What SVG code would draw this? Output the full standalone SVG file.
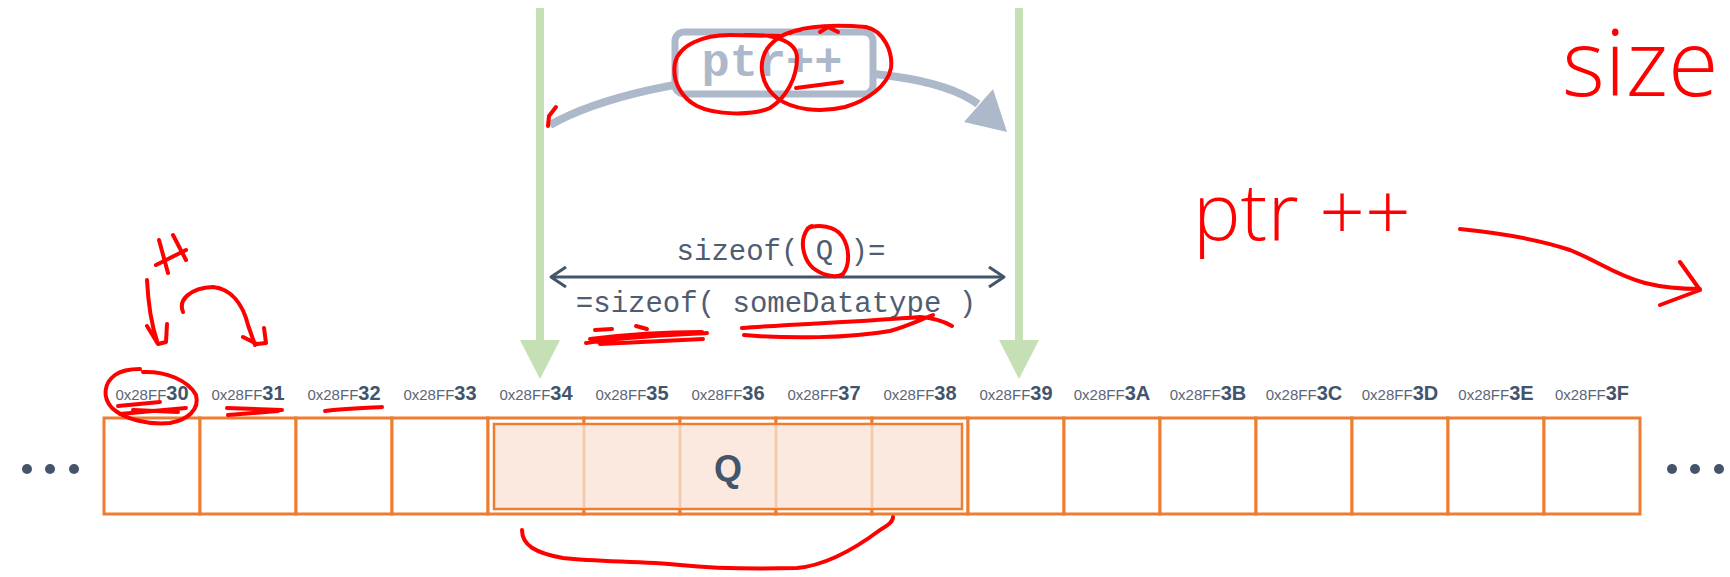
<svg xmlns="http://www.w3.org/2000/svg" width="1730" height="577" viewBox="0 0 1730 577">
<style>
.cell{fill:#FFFFFF;stroke:#ED7D31;stroke-width:3}
.lo{font-family:"Liberation Sans",Arial,sans-serif;font-size:15px;fill:#5A6678}
.hi{font-family:"Liberation Sans",Arial,sans-serif;font-size:20px;font-weight:bold;fill:#44546A}
.mono{font-family:"Liberation Mono","Courier New",monospace}
.dot{fill:#44546A}
.ink{fill:none;stroke:#FF0000;stroke-width:4;stroke-linecap:round;stroke-linejoin:round}
.hand{font-family:"Open Sans","DejaVu Sans",sans-serif;font-weight:300;fill:#FF0000}
.green{stroke:#C5E0B4;stroke-width:8}
</style>
<rect width="1730" height="577" fill="#FFFFFF"/>

<g id="connectors">
  <line class="green" x1="540" y1="8" x2="540" y2="342"/>
  <polygon points="520,340 560,340 540,379" fill="#C5E0B4"/>
  <line class="green" x1="1019" y1="8" x2="1019" y2="342"/>
  <polygon points="999,340 1039,340 1019,379" fill="#C5E0B4"/>
  <path d="M550,125 C650,68 905,50 978,104" fill="none" stroke="#ADB9CA" stroke-width="8"/>
  <polygon points="1007,132 964,122 993,89" fill="#ADB9CA"/>
  <line x1="551" y1="277" x2="1004" y2="277" stroke="#44546A" stroke-width="3"/>
  <polyline points="566,267 551,277 566,287" fill="none" stroke="#44546A" stroke-width="3" stroke-linejoin="round"/>
  <polyline points="989,267 1004,277 989,287" fill="none" stroke="#44546A" stroke-width="3" stroke-linejoin="round"/>
</g>

<g id="ptrpp">
  <rect x="675" y="32" width="198" height="62" rx="9" fill="#FFFFFF" stroke="#ADB9CA" stroke-width="7"/>
  <text x="772" y="76" text-anchor="middle" class="mono" font-size="47" font-weight="bold" fill="#ADB9CA">ptr++</text>
</g>

<g id="sizeof">
  <text x="781" y="260" text-anchor="middle" class="mono" font-size="29" fill="#4F5D73">sizeof( Q )=</text>
  <text x="776" y="312" text-anchor="middle" class="mono" font-size="29" fill="#4F5D73">=sizeof( someDatatype )</text>
</g>

<g id="memory">
  <rect class="cell" x="104" y="418" width="96" height="96"/>
  <rect class="cell" x="200" y="418" width="96" height="96"/>
  <rect class="cell" x="296" y="418" width="96" height="96"/>
  <rect class="cell" x="392" y="418" width="96" height="96"/>
  <rect class="cell" x="488" y="418" width="96" height="96"/>
  <rect class="cell" x="584" y="418" width="96" height="96"/>
  <rect class="cell" x="680" y="418" width="96" height="96"/>
  <rect class="cell" x="776" y="418" width="96" height="96"/>
  <rect class="cell" x="872" y="418" width="96" height="96"/>
  <rect class="cell" x="968" y="418" width="96" height="96"/>
  <rect class="cell" x="1064" y="418" width="96" height="96"/>
  <rect class="cell" x="1160" y="418" width="96" height="96"/>
  <rect class="cell" x="1256" y="418" width="96" height="96"/>
  <rect class="cell" x="1352" y="418" width="96" height="96"/>
  <rect class="cell" x="1448" y="418" width="96" height="96"/>
  <rect class="cell" x="1544" y="418" width="96" height="96"/>
</g>

<g id="q-block">
  <rect x="494" y="424" width="468" height="85" fill="#FBE9DF" stroke="#ED7D31" stroke-width="2.5"/>
  <g stroke="#F6C7A6" stroke-width="2.5">
    <line x1="584" y1="425.5" x2="584" y2="507.5"/>
    <line x1="680" y1="425.5" x2="680" y2="507.5"/>
    <line x1="776" y1="425.5" x2="776" y2="507.5"/>
    <line x1="872" y1="425.5" x2="872" y2="507.5"/>
  </g>
  <text x="728" y="481" text-anchor="middle" font-family="'Liberation Sans',Arial,sans-serif" font-size="36" font-weight="bold" fill="#44546A">Q</text>
</g>

<g id="addresses">
  <text x="152" y="400" text-anchor="middle"><tspan class="lo">0x28FF</tspan><tspan class="hi">30</tspan></text>
  <text x="248" y="400" text-anchor="middle"><tspan class="lo">0x28FF</tspan><tspan class="hi">31</tspan></text>
  <text x="344" y="400" text-anchor="middle"><tspan class="lo">0x28FF</tspan><tspan class="hi">32</tspan></text>
  <text x="440" y="400" text-anchor="middle"><tspan class="lo">0x28FF</tspan><tspan class="hi">33</tspan></text>
  <text x="536" y="400" text-anchor="middle"><tspan class="lo">0x28FF</tspan><tspan class="hi">34</tspan></text>
  <text x="632" y="400" text-anchor="middle"><tspan class="lo">0x28FF</tspan><tspan class="hi">35</tspan></text>
  <text x="728" y="400" text-anchor="middle"><tspan class="lo">0x28FF</tspan><tspan class="hi">36</tspan></text>
  <text x="824" y="400" text-anchor="middle"><tspan class="lo">0x28FF</tspan><tspan class="hi">37</tspan></text>
  <text x="920" y="400" text-anchor="middle"><tspan class="lo">0x28FF</tspan><tspan class="hi">38</tspan></text>
  <text x="1016" y="400" text-anchor="middle"><tspan class="lo">0x28FF</tspan><tspan class="hi">39</tspan></text>
  <text x="1112" y="400" text-anchor="middle"><tspan class="lo">0x28FF</tspan><tspan class="hi">3A</tspan></text>
  <text x="1208" y="400" text-anchor="middle"><tspan class="lo">0x28FF</tspan><tspan class="hi">3B</tspan></text>
  <text x="1304" y="400" text-anchor="middle"><tspan class="lo">0x28FF</tspan><tspan class="hi">3C</tspan></text>
  <text x="1400" y="400" text-anchor="middle"><tspan class="lo">0x28FF</tspan><tspan class="hi">3D</tspan></text>
  <text x="1496" y="400" text-anchor="middle"><tspan class="lo">0x28FF</tspan><tspan class="hi">3E</tspan></text>
  <text x="1592" y="400" text-anchor="middle"><tspan class="lo">0x28FF</tspan><tspan class="hi">3F</tspan></text>
</g>

<g id="ellipsis-left">
  <circle class="dot" cx="27" cy="469" r="5"/>
  <circle class="dot" cx="50" cy="469" r="5"/>
  <circle class="dot" cx="74" cy="469" r="5"/>
</g>
<g id="ellipsis-right">
  <circle class="dot" cx="1672" cy="469" r="5"/>
  <circle class="dot" cx="1695" cy="469" r="5"/>
  <circle class="dot" cx="1719" cy="469" r="5"/>
</g>

<g id="annotations">
  <path class="ink" d="M745,35 C772,34 797,40 797,58 C797,78 786,98 770,108 C752,116 715,115 697,106 C680,97 672,80 675,63 C679,45 703,35 730,35 L782,36"/>
  <path class="ink" d="M790,33 C805,25 840,25 866,27 C884,31 893,52 891,68 C888,86 866,101 845,107 C820,113 793,110 777,98 C762,86 757,65 767,49 C775,38 786,32 800,30"/>
  <path class="ink" stroke-width="3" d="M820,32 L828,27 L838,32"/>
  <path class="ink" stroke-width="6" d="M796,88 L842,82"/>
  <path class="ink" stroke-width="2.5" d="M556,107 L549,116 L548,126"/>
  <path class="ink" d="M808,228 C818,224 835,226 842,236 C850,248 850,265 843,274 C836,279 822,275 813,268 C804,260 801,245 804,236 C806,230 808,227 812,226"/>
  <path class="ink" stroke-width="6" d="M586,343 C620,337 670,335 707,333 M590,339 C630,334 670,332 702,332 M600,344 C640,342 680,340 703,339 M595,330 L612,329 M636,326 L647,329"/>
  <path class="ink" d="M742,328 C790,324 860,322 920,317 C935,318 945,322 952,326 M744,335 C790,339 850,338 890,331 C905,327 920,320 933,315"/>
  <path class="ink" d="M159,240 L168,273 M173,235 L186,260 M156,265 L186,250"/>
  <path class="ink" d="M147,280 C148,300 150,320 157,341 M147,326 L158,344 L166,342 L167,324"/>
  <path class="ink" d="M183,312 C178,300 190,288 213,287 C232,289 243,305 248,325 L255,345 M243,337 L257,344 L266,343 L264,328"/>
  <path class="ink" d="M143,372 C165,371 188,380 196,395 C200,410 187,420 170,423 C150,425 125,420 112,408 C102,397 104,383 115,375 C122,370 132,369 140,369"/>
  <path class="ink" d="M118,406 L160,402 M120,414 L186,408 M133,410 L178,412"/>
  <path class="ink" d="M227,408 L282,410 M228,415 L278,411"/>
  <path class="ink" d="M325,411 C345,408 365,408 382,407"/>
  <path class="ink" d="M522,530 C522,545 535,553 563,558 C600,562 640,561 680,565 C720,569 760,569 797,568 C830,565 860,545 880,530 C888,525 893,522 893,517"/>
  <path class="ink" d="M1460,229 C1500,233 1540,240 1570,250 C1600,262 1615,275 1645,283 C1665,288 1685,289 1700,289 M1680,262 L1700,290 L1660,305"/>
  <text class="hand" x="1193" y="240" font-size="80">ptr ++</text>
  <text class="hand" x="1562" y="96" font-size="92">size</text>
</g>
</svg>
